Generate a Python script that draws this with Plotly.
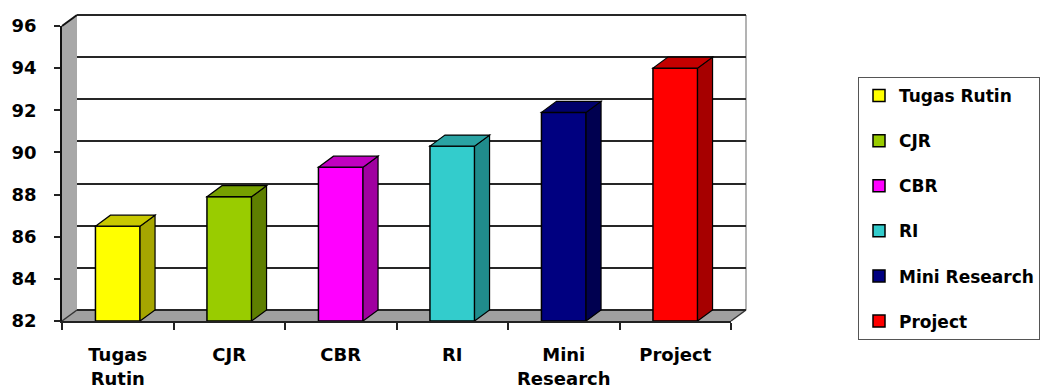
import plotly.graph_objects as go

# ---------------- data ----------------
categories = ["Tugas Rutin", "CJR", "CBR", "RI", "Mini Research", "Project"]
tick_labels = ["Tugas<br>Rutin", "CJR", "CBR", "RI", "Mini<br>Research", "Project"]
values = [86.5, 87.9, 89.3, 90.3, 91.9, 94.0]
front_colors = ["#FFFF00", "#99CC00", "#FF00FF", "#33CCCC", "#000080", "#FF0000"]
top_colors = ["#C8C800", "#76A000", "#C000C0", "#2AA3A3", "#00006A", "#C40000"]
side_colors = ["#A6A600", "#5E7F00", "#A000A0", "#208C8C", "#000050", "#A60000"]
y_ticks = [82, 84, 86, 88, 90, 92, 94, 96]

# ---------------- geometry (pixels) ----------------
W, H = 1043, 392
FX0, FX1 = 62, 731          # front plane x extent
FYB, FYT = 321, 26          # front plane y for 82 / 96
DX, DY = 15, 11             # depth offset
YMIN, YMAX = 82, 96
BAR_W = 0.4

k = (FYB - FYT) / (YMAX - YMIN)          # px per value unit
ux = (FX1 - FX0) / len(categories)       # px per category
ddx = DX / ux                            # depth in x data units
ddy = DY / k                             # depth in y data units


def px(x):
    return x / W


def py(y):
    return 1 - y / H


fig = go.Figure()

# back-wall subplot (x, y) : only gridlines
E = 0.12
fig.add_trace(go.Scatter(x=[], y=[], xaxis="x", yaxis="y", showlegend=False,
                         hoverinfo="skip"))

# front bars (x2, y2)
for i, (cat, v) in enumerate(zip(categories, values)):
    fig.add_trace(go.Bar(
        x=[i], y=[v - YMIN], base=YMIN, width=BAR_W, name=cat,
        legendgroup=cat, xaxis="x2", yaxis="y2",
        marker=dict(color=front_colors[i], line=dict(color="black", width=1.5)),
    ))

shapes = []
# walls / floor (paper)
BX0, BX1 = FX0 + DX, FX1 + DX
BYB, BYT = FYB - DY, FYT - DY
shapes.append(dict(type="path", xref="paper", yref="paper", layer="below",
                   path=f"M{px(FX0)},{py(FYB)} L{px(FX0)},{py(FYT)} L{px(BX0)},{py(BYT)} L{px(BX0)},{py(BYB)} Z",
                   fillcolor="#A8A8A8", line=dict(width=0)))
shapes.append(dict(type="path", xref="paper", yref="paper", layer="below",
                   path=f"M{px(FX0)},{py(FYB)} L{px(FX1)},{py(FYB)} L{px(BX1)},{py(BYB)} L{px(BX0)},{py(BYB)} Z",
                   fillcolor="#A0A0A0", line=dict(width=0)))
for (a, b, c, d, col, wd) in [
    (FX0, FYT, BX0, BYT, "#111", 2),
    (FX0, FYB, BX0, BYB, "#333", 1.5),
    (FX1, FYB, BX1, BYB, "#333", 1.5),
    (BX1, BYT, BX1, BYB, "#9A9A9A", 1.5),
]:
    shapes.append(dict(type="line", xref="paper", yref="paper", layer="below",
                       x0=px(a), y0=py(b), x1=px(c), y1=py(d),
                       line=dict(color=col, width=wd)))

# 3D faces of bars
hw = BAR_W / 2
for i, v in enumerate(values):
    top = (f"M{i - hw},{v} L{i - hw + ddx},{v + ddy} L{i + hw + ddx},{v + ddy} "
           f"L{i + hw},{v} Z")
    side = (f"M{i + hw},{YMIN} L{i + hw + ddx},{YMIN + ddy} L{i + hw + ddx},{v + ddy} "
            f"L{i + hw},{v} Z")
    shapes.append(dict(type="path", xref="x2", yref="y2", layer="above", path=side,
                       fillcolor=side_colors[i], line=dict(color="black", width=1.2)))
    shapes.append(dict(type="path", xref="x2", yref="y2", layer="above", path=top,
                       fillcolor=top_colors[i], line=dict(color="black", width=1.2)))

font_b = dict(family="DejaVu Sans", weight="bold", color="black")

fig.update_layout(
    width=W, height=H,
    margin=dict(l=0, r=0, t=0, b=0, autoexpand=False),
    paper_bgcolor="white", plot_bgcolor="rgba(0,0,0,0)",
    barmode="overlay",
    shapes=shapes,
    xaxis=dict(domain=[px(BX0), px(BX1)], range=[-0.5, len(categories) - 0.5],
               visible=False, anchor="y", fixedrange=True, automargin=False),
    yaxis=dict(domain=[py(BYB + E * k), py(BYT - E * k)], range=[YMIN - E, YMAX + E],
               tickvals=y_ticks, showticklabels=False, ticks="", showgrid=True,
               gridcolor="#262626", gridwidth=2, zeroline=False, showline=False,
               anchor="x", automargin=False),
    xaxis2=dict(domain=[px(FX0), px(FX1)], range=[-0.5, len(categories) - 0.5],
                anchor="y2", tickvals=list(range(len(categories))), ticktext=tick_labels,
                ticks="", showgrid=False, zeroline=False, showline=True,
                linecolor="#222", linewidth=1.5, ticklabelstandoff=17,
                automargin=False,
                tickfont=dict(size=18, **font_b),
                minor=dict(tickvals=[i - 0.5 for i in range(len(categories) + 1)],
                           ticks="outside", ticklen=7, tickcolor="#222", tickwidth=1.5)),
    yaxis2=dict(domain=[py(FYB), py(FYT)], range=[YMIN, YMAX], anchor="x2",
                tickvals=y_ticks, ticks="outside", ticklen=6, tickcolor="#222",
                tickwidth=1.5, showgrid=False, zeroline=False, showline=True,
                linecolor="#111", linewidth=1.5, ticklabelstandoff=14,
                automargin=False,
                tickfont=dict(size=18, **font_b)),
    legend=dict(x=px(858), y=py(77), xanchor="left", yanchor="top",
                bordercolor="#555", borderwidth=1, bgcolor="white",
                font=dict(size=17, **font_b), tracegroupgap=20,
                itemclick=False, itemdoubleclick=False),
    showlegend=True,
)

fig.write_html("out.html")
